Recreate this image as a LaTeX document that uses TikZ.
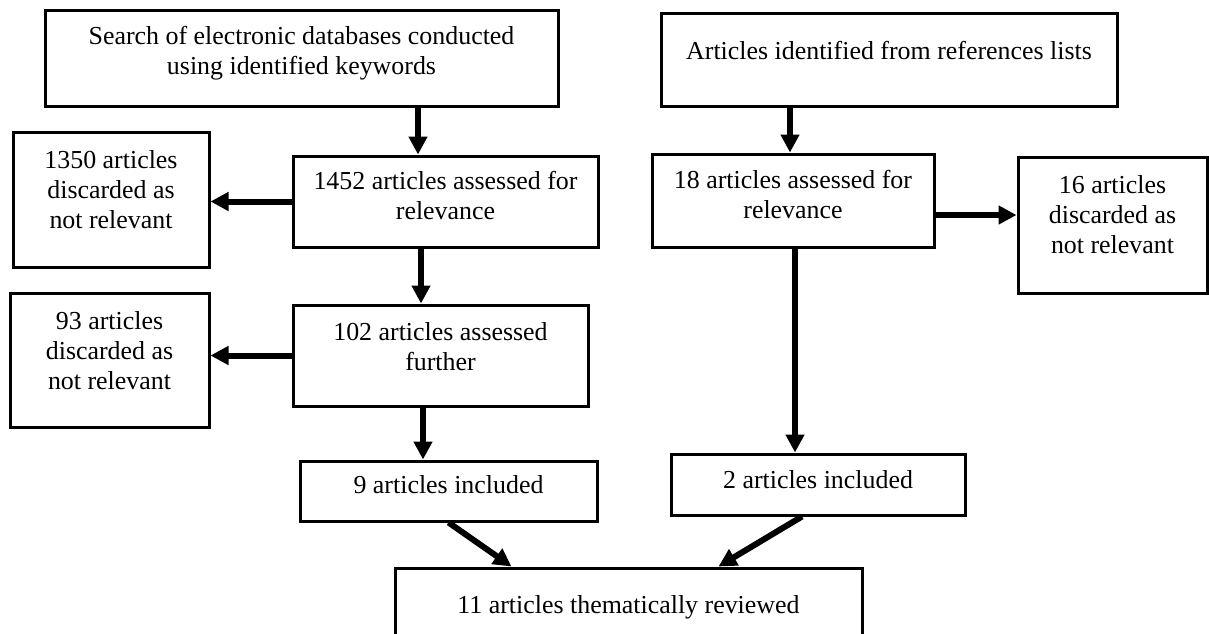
\documentclass[tikz,border=0pt]{standalone}
\usepackage{fontspec}
\setmainfont{Liberation Serif}
\usetikzlibrary{arrows.meta,positioning,calc}
\tikzset{
  stagebox/.style={draw=black, line width=3pt, fill=white, align=center,
    inner sep=0pt, font=\fontsize{25.9}{29.8}\selectfont},
  drop/.style={text height=#1, text depth=0pt},
  flowarrow/.style={-{Triangle[length=18pt,width=18pt]}, line width=6pt},
}

\begin{document}
\begin{tikzpicture}[x=1pt, y=-1pt]
  \useasboundingbox (0,0) rectangle (1209,633);
  \clip (0,0) rectangle (1209,633);

  % left branch
  \node[stagebox, minimum width=513pt, minimum height=96pt, drop=32pt] (search) at (301.5,58)
    {Search of electronic databases conducted\\using identified keywords};
  \node[stagebox, minimum width=196pt, minimum height=135pt, drop=57pt] (disc1350) at (111,199.5)
    {1350 articles\\discarded as\\not relevant};
  \node[stagebox, minimum width=305pt, minimum height=91pt, drop=35pt] (assess1452) at (445.5,201.5)
    {1452 articles assessed for\\relevance};
  \node[stagebox, minimum width=199pt, minimum height=134pt, drop=58pt] (disc93) at (109.5,360)
    {93 articles\\discarded as\\not relevant};
  \node[stagebox, minimum width=295pt, minimum height=101pt, drop=29pt] (assess102) at (440.5,355.5)
    {102 articles assessed\\further};
  \node[stagebox, minimum width=297pt, minimum height=60pt, drop=4pt] (incl9) at (448.5,491)
    {9 articles included};

  % right branch
  \node[stagebox, minimum width=456pt, minimum height=93pt, drop=0pt] (refs) at (889,59.5)
    {Articles identified from references lists};
  \node[stagebox, minimum width=282pt, minimum height=93pt, drop=35pt] (assess18) at (793,200.5)
    {18 articles assessed for\\relevance};
  \node[stagebox, minimum width=189pt, minimum height=136pt, drop=56pt] (disc16) at (1112.5,225)
    {16 articles\\discarded as\\not relevant};
  \node[stagebox, minimum width=294pt, minimum height=61pt, drop=7pt] (incl2) at (818,484.5)
    {2 articles included};

  % merged result
  \node[stagebox, minimum width=467pt, minimum height=100pt, text height=0pt, text depth=10pt] (review) at (628.5,618)
    {11 articles thematically reviewed};

  \draw[flowarrow] ([xshift=116.5pt]search.south) -- ([xshift=116.5pt]search.south |- assess1452.north);
  \draw[flowarrow] (assess1452.west) -- (assess1452.west -| disc1350.east);
  \draw[flowarrow] ([xshift=-24.5pt]assess1452.south) -- ([xshift=-24.5pt]assess1452.south |- assess102.north);
  \draw[flowarrow] (assess102.west) -- (assess102.west -| disc93.east);
  \draw[flowarrow] ([xshift=-17.5pt]assess102.south) -- ([xshift=-17.5pt]assess102.south |- incl9.north);
  \draw[flowarrow] (incl9.south) -- ([xshift=118pt]review.north west);

  \draw[flowarrow] ([xshift=-99pt]refs.south) -- ([xshift=-99pt]refs.south |- assess18.north);
  \draw[flowarrow] ([yshift=-14.5pt]assess18.east) -- ([yshift=-14.5pt]assess18.east -| disc16.west);
  \draw[flowarrow] ([xshift=2pt]assess18.south) -- ([xshift=2pt]assess18.south |- incl2.north);
  \draw[flowarrow] ([xshift=-16pt]incl2.south) -- ([xshift=325pt]review.north west);

\end{tikzpicture}
\end{document}
